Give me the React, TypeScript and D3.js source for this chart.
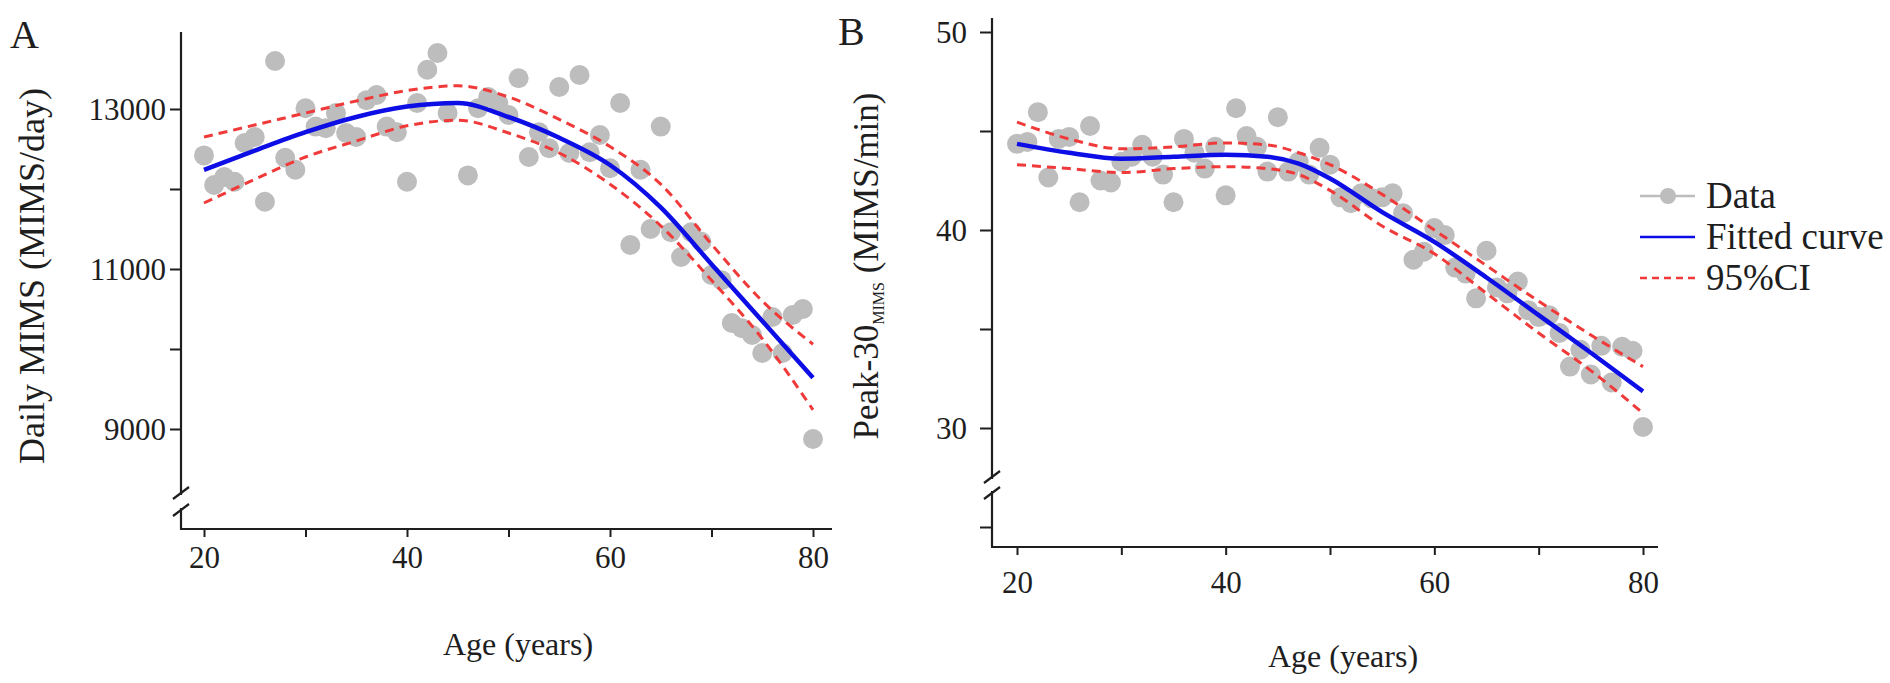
import * as d3 from "d3";
import React, { useEffect, useRef } from "react";

// panel A: daily MIMS by age
const agesA = [20, 21, 22, 23, 24, 25, 26, 27, 28, 29, 30, 31, 32, 33, 34, 35, 36, 37, 38, 39, 40, 41, 42, 43, 44, 46, 47, 48, 49, 50, 51, 52, 53, 54, 55, 56, 57, 58, 59, 60, 61, 62, 63, 64, 65, 66, 67, 68, 69, 70, 71, 72, 73, 74, 75, 76, 77, 78, 79, 80];
const dailyMims = [12420, 12050, 12150, 12090, 12575, 12650, 11840, 13600, 12390, 12240, 13010, 12780, 12760, 12950, 12700, 12650, 13110, 13175, 12780, 12710, 12090, 13075, 13490, 13700, 12950, 12170, 13010, 13150, 13075, 12925, 13385, 12400, 12710, 12510, 13275, 12450, 13425, 12460, 12675, 12260, 13075, 11300, 12240, 11500, 12780, 11460, 11150, 11460, 11340, 10925, 10860, 10325, 10260, 10175, 9950, 10400, 9950, 10425, 10500, 8875];
const fitAgesA = [20, 25, 30, 35, 40, 45, 50, 55, 60, 65, 70, 75, 80];
const fitA = [12240, 12480, 12710, 12900, 13030, 13075, 12900, 12640, 12300, 11770, 11060, 10350, 9640];
const hiA = [12650, 12800, 12950, 13100, 13230, 13290, 13150, 12870, 12530, 12060, 11310, 10600, 10060];
const loA = [11825, 12120, 12400, 12600, 12790, 12860, 12700, 12450, 12060, 11540, 10860, 10130, 9240];

// panel B: peak-30 by age
const agesB = [20, 21, 22, 23, 24, 25, 26, 27, 28, 29, 30, 31, 32, 33, 34, 35, 36, 37, 38, 39, 40, 41, 42, 43, 44, 45, 46, 47, 48, 49, 50, 51, 52, 53, 54, 55, 56, 57, 58, 59, 60, 61, 62, 63, 64, 65, 66, 67, 68, 69, 70, 71, 72, 73, 74, 75, 76, 77, 78, 79, 80];
const peak30 = [44.35, 44.45, 45.95, 42.65, 44.6, 44.7, 41.4, 45.25, 42.5, 42.4, 43.45, 43.7, 44.3, 43.7, 42.8, 41.4, 44.6, 43.9, 43.1, 44.2, 41.75, 46.15, 44.75, 44.2, 42.95, 45.7, 42.95, 43.45, 42.8, 44.15, 43.3, 41.65, 41.35, 41.85, 41.6, 41.65, 41.85, 40.85, 38.5, 38.9, 40.1, 39.75, 38.1, 37.8, 36.55, 38.95, 37.1, 36.8, 37.4, 35.95, 35.6, 35.7, 34.8, 33.1, 33.95, 32.7, 34.15, 32.3, 34.1, 33.9, 30.05];
const fitAgesB = [20, 25, 30, 35, 40, 44, 47, 50, 55, 60, 65, 70, 75, 80];
const fitB = [44.35, 43.9, 43.6, 43.7, 43.8, 43.7, 43.35, 42.6, 40.9, 39.4, 37.6, 35.7, 33.8, 31.85];
const hiB = [45.45, 44.6, 44.1, 44.2, 44.4, 44.3, 43.9, 43.3, 41.8, 40.0, 38.2, 36.4, 34.7, 33.1];
const loB = [43.3, 43.1, 42.9, 43.1, 43.2, 43.1, 42.8, 42.0, 40.2, 38.8, 36.8, 34.8, 32.9, 30.75];

const xTicks = [20, 30, 40, 50, 60, 70, 80];
const xLabels = [20, 40, 60, 80];
const yTicksA = [9000, 10000, 11000, 12000, 13000];
const yLabelsA = [9000, 11000, 13000];
const yTicksB = [25, 30, 35, 40, 45, 50];
const yLabelsB = [30, 40, 50];
const legendItems = ["Data", "Fitted curve", "95%CI"];

const FONT = "'Liberation Serif', 'Times New Roman', serif";
const INK = "#1e1e1e";
const GREY = "#bdbdbd";
const BLUE = "#0d0de6";
const RED = "#f03a3a";

export default function App() {
  const ref = useRef(null);

  useEffect(() => {
    const svg = d3.select(ref.current);
    svg.selectAll("*").remove();

    const panels = [
      {
        letter: "A", lx: 10, ly: 48,
        x: d3.scaleLinear().domain([20, 80]).range([204, 813]),
        y: d3.scaleLinear().domain([9000, 13000]).range([429, 109]),
        ages: agesA, vals: dailyMims,
        fitAges: fitAgesA, fit: fitA, hi: hiA, lo: loA,
        yTicks: yTicksA, yLabels: yLabelsA,
        axisX: 181, axisTop: 32, axisBottom: 529, axisRight: 832,
        breaks: [493, 510], minorLen: 11, labelEnd: 166,
        xLabelBase: 568, title: "Age (years)", titleX: 518, titleY: 655,
        yTitleX: 44, yTitleY: 276, yTitleSize: 36,
      },
      {
        letter: "B", lx: 838, ly: 45,
        x: d3.scaleLinear().domain([20, 80]).range([1017, 1643]),
        y: d3.scaleLinear().domain([30, 50]).range([428, 32]),
        ages: agesB, vals: peak30,
        fitAges: fitAgesB, fit: fitB, hi: hiB, lo: loB,
        yTicks: yTicksB, yLabels: yLabelsB,
        axisX: 992, axisTop: 18, axisBottom: 547, axisRight: 1658,
        breaks: [477, 493], minorLen: 12, labelEnd: 967,
        xLabelBase: 593, title: "Age (years)", titleX: 1343, titleY: 667,
        yTitleX: 878, yTitleY: 266, yTitleSize: 35,
      },
    ];

    panels.forEach((p, pi) => {
      const g = svg.append("g");

      // y axis line with a break
      g.append("line").attr("x1", p.axisX).attr("x2", p.axisX)
        .attr("y1", p.axisTop).attr("y2", p.breaks[0] + 2)
        .attr("stroke", INK).attr("stroke-width", 2.2);
      g.append("line").attr("x1", p.axisX).attr("x2", p.axisX)
        .attr("y1", p.breaks[1] - 2).attr("y2", p.axisBottom)
        .attr("stroke", INK).attr("stroke-width", 2.2);
      p.breaks.forEach((b) => {
        g.append("line")
          .attr("x1", p.axisX - 8).attr("y1", b + 6)
          .attr("x2", p.axisX + 8).attr("y2", b - 6)
          .attr("stroke", INK).attr("stroke-width", 2.2);
      });
      // x axis line
      g.append("line").attr("x1", p.axisX - 1).attr("x2", p.axisRight)
        .attr("y1", p.axisBottom).attr("y2", p.axisBottom)
        .attr("stroke", INK).attr("stroke-width", 2.2);

      // y ticks
      const yAxis = d3.axisLeft(p.y)
        .tickValues(p.yTicks)
        .tickSize(p.minorLen)
        .tickPadding(p.axisX - p.minorLen - p.labelEnd)
        .tickFormat((d) => (p.yLabels.includes(d) ? String(d) : ""));
      const ya = g.append("g").attr("transform", `translate(${p.axisX},0)`).call(yAxis);
      ya.select(".domain").remove();
      ya.selectAll("line").attr("stroke", INK).attr("stroke-width", 2);
      ya.selectAll("text").attr("font-family", FONT).attr("font-size", 31)
        .attr("fill", INK).attr("dy", "0.34em");

      // x ticks
      const xAxis = d3.axisBottom(p.x)
        .tickValues(xTicks)
        .tickSize(8)
        .tickPadding(p.xLabelBase - p.axisBottom - 8 - 22)
        .tickFormat((d) => (xLabels.includes(d) ? String(d) : ""));
      const xa = g.append("g").attr("transform", `translate(0,${p.axisBottom})`).call(xAxis);
      xa.select(".domain").remove();
      xa.selectAll("line").attr("stroke", INK).attr("stroke-width", 2);
      xa.selectAll("text").attr("font-family", FONT).attr("font-size", 31)
        .attr("fill", INK).attr("dy", "0.71em");

      // data points
      g.append("g").selectAll("circle")
        .data(p.ages.map((a, i) => [a, p.vals[i]]))
        .join("circle")
        .attr("cx", (d) => p.x(d[0]))
        .attr("cy", (d) => p.y(d[1]))
        .attr("r", 10)
        .attr("fill", GREY);

      const line = (vals) =>
        d3.line()
          .x((d) => p.x(d))
          .y((d, i) => p.y(vals[i]))
          .curve(d3.curveMonotoneX)(p.fitAges);

      [p.hi, p.lo].forEach((v) => {
        g.append("path").attr("d", line(v)).attr("fill", "none")
          .attr("stroke", RED).attr("stroke-width", 3)
          .attr("stroke-dasharray", "9,6");
      });
      g.append("path").attr("d", line(p.fit)).attr("fill", "none")
        .attr("stroke", BLUE).attr("stroke-width", 4.5);

      // panel letter
      g.append("text").attr("x", p.lx).attr("y", p.ly)
        .attr("font-family", FONT).attr("font-size", 40).attr("fill", INK)
        .text(p.letter);

      // x title
      g.append("text").attr("x", p.titleX).attr("y", p.titleY)
        .attr("text-anchor", "middle").attr("font-family", FONT)
        .attr("font-size", 32).attr("fill", INK).text(p.title);

      // y title
      const yt = g.append("text")
        .attr("transform", `translate(${p.yTitleX},${p.yTitleY}) rotate(-90)`)
        .attr("text-anchor", "middle").attr("font-family", FONT)
        .attr("font-size", p.yTitleSize).attr("fill", INK);
      if (pi === 0) {
        yt.text("Daily MIMS (MIMS/day)");
      } else {
        yt.append("tspan").text("Peak-30");
        yt.append("tspan").attr("font-size", 16).attr("dy", 6).text("MIMS");
        yt.append("tspan").attr("dy", -6).text(" (MIMS/min)");
      }
    });

    // legend
    const lg = svg.append("g");
    legendItems.forEach((name, i) => {
      const ly = 196 + i * 41;
      const ln = lg.append("line").attr("x1", 1640).attr("x2", 1695)
        .attr("y1", ly).attr("y2", ly);
      if (i === 0) {
        ln.attr("stroke", GREY).attr("stroke-width", 2.5);
        lg.append("circle").attr("cx", 1668).attr("cy", ly).attr("r", 8).attr("fill", GREY);
      } else if (i === 1) {
        ln.attr("stroke", BLUE).attr("stroke-width", 2.5);
      } else {
        ln.attr("stroke", RED).attr("stroke-width", 2.5).attr("stroke-dasharray", "7,5");
      }
      lg.append("text").attr("x", 1706).attr("y", ly + 12)
        .attr("font-family", FONT).attr("font-size", 37).attr("fill", INK)
        .text(name);
    });
  }, []);

  return (
    <svg
      ref={ref}
      width={1890}
      height={683}
      style={{ position: "absolute", left: 0, top: 0, background: "#fff" }}
    />
  );
}
